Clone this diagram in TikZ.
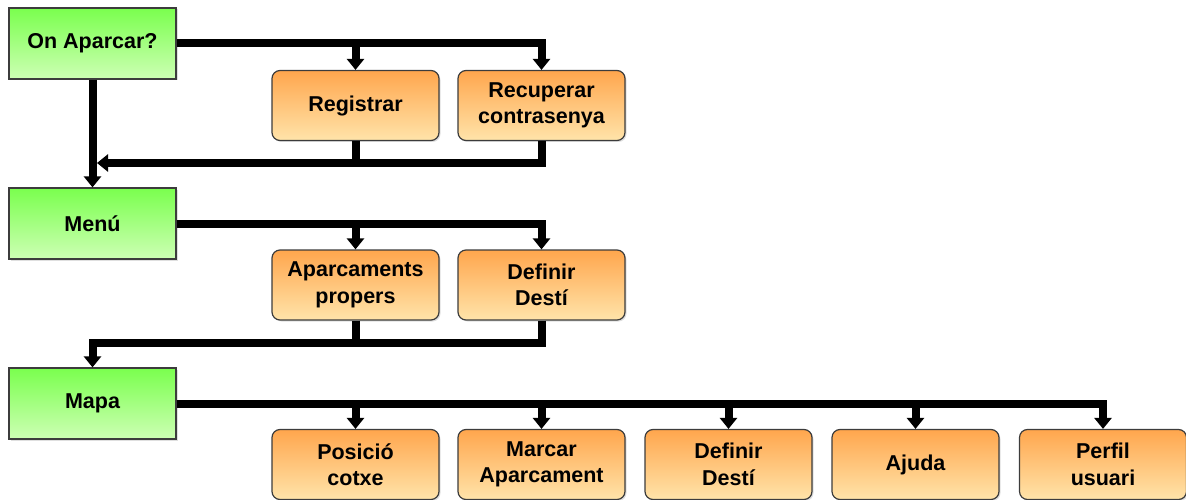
\documentclass[tikz,border=0pt]{standalone}
\usepackage{fontspec}
\setmainfont{Liberation Sans}
\usetikzlibrary{arrows.meta,shadows}
\definecolor{gtop}{RGB}{122,255,78}
\definecolor{gbot}{RGB}{205,255,180}
\definecolor{otop}{RGB}{255,166,77}
\definecolor{obot}{RGB}{255,228,170}
\definecolor{edge}{RGB}{60,60,60}
\tikzset{
  base/.style={draw=edge, line width=1.2pt, minimum width=167pt, align=center,
    font=\fontsize{21.5}{26.5}\selectfont\bfseries, inner sep=2pt,
    drop shadow={opacity=0.25, shadow xshift=1.5pt, shadow yshift=-1.5pt}},
  greenbox/.style={base, minimum height=71pt, top color=gtop, bottom color=gbot},
  orangebox/.style={base, minimum height=70pt, rounded corners=8pt, top color=otop, bottom color=obot},
  conn/.style={line width=8pt, line join=miter, draw=black},
  arr/.style={conn, -{Triangle[width=17pt,length=11pt]}}
}
\begin{document}
\begin{tikzpicture}[x=1pt,y=-1pt]
\useasboundingbox (0,0) rectangle (1186,500);
% green boxes
\node[greenbox] (onap) at (92.5,43.5) {On Aparcar?};
\node[greenbox] (menu) at (92.5,223.5) {Menú};
\node[greenbox] (mapa) at (92.5,403.5) {Mapa};
% row 1
\node[orangebox] (reg) at (355.5,105.5) {Registrar};
\node[orangebox] (rec) at (541.5,105.5) {Recuperar\\contrasenya};
% row 2
\node[orangebox] (apa) at (355.5,285) {Aparcaments\\propers};
\node[orangebox] (def1) at (541.5,285) {Definir\\Destí};
% row 3
\node[orangebox] (pos) at (355.5,464.5) {Posició\\cotxe};
\node[orangebox] (mar) at (541.5,464.5) {Marcar\\Aparcament};
\node[orangebox] (def2) at (728.5,464.5) {Definir\\Destí};
\node[orangebox] (aju) at (915.5,464.5) {Ajuda};
\node[orangebox] (per) at (1103,464.5) {Perfil\\usuari};
% junctions
\coordinate (j1) at (97,163);
\coordinate (j2) at (92.5,343);
% connectors: On Aparcar?
\draw[arr] (onap.east) -| (rec.north);
\draw[arr] (reg.north |- onap.east) -- (reg.north);
\draw[arr] (onap.south) -- (menu.north);
\draw[conn] (reg.south) -- (reg.south |- j1);
\draw[arr] (rec.south) |- (j1);
% Menu
\draw[arr] (menu.east) -| (def1.north);
\draw[arr] (apa.north |- menu.east) -- (apa.north);
\draw[conn] (apa.south) -- (apa.south |- j2);
\draw[arr] (def1.south) |- (j2) -- (mapa.north);
% Mapa
\draw[arr] (mapa.east) -| (per.north);
\draw[arr] (pos.north |- mapa.east) -- (pos.north);
\draw[arr] (mar.north |- mapa.east) -- (mar.north);
\draw[arr] (def2.north |- mapa.east) -- (def2.north);
\draw[arr] (aju.north |- mapa.east) -- (aju.north);
\end{tikzpicture}
\end{document}
